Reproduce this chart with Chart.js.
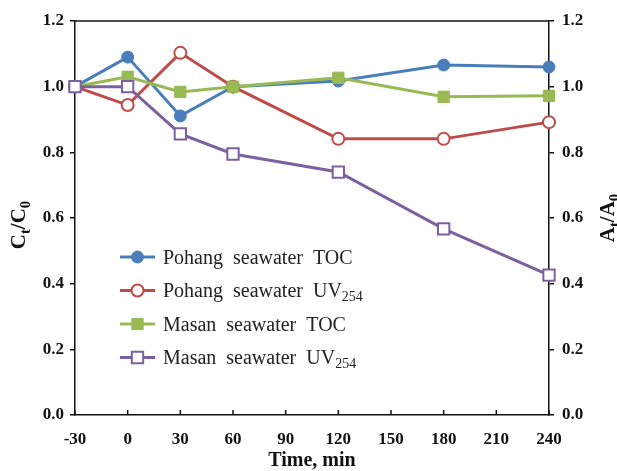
<!DOCTYPE html>
<html>
<head>
<meta charset="UTF-8">
<title>Ct/C0 vs time</title>
<script src="https://cdn.jsdelivr.net/npm/chart.js"></script>
<style>
  html, body { margin: 0; padding: 0; background: #fff; }
  #wrap { width: 617px; height: 471px; }
</style>
</head>
<body>
<div id="wrap"><canvas id="chart" width="617" height="471"></canvas></div>
<script>
// sampling times (min) and normalised values
const times = [-30, 0, 30, 60, 120, 180, 240];
const pohangToc = [1.0, 1.09, 0.911, 1.0, 1.017, 1.066, 1.06];
const pohangUv = [1.0, 0.944, 1.103, 1.0, 0.841, 0.841, 0.892];
const masanToc = [1.0, 1.03, 0.984, 1.0, 1.027, 0.969, 0.972];
const masanUv = [1.0, 1.0, 0.856, 0.795, 0.74, 0.567, 0.426];
const xTicks = [-30, 0, 30, 60, 90, 120, 150, 180, 210, 240];
const yTicks = [0, 0.2, 0.4, 0.6, 0.8, 1.0, 1.2];

const serif = "'Liberation Serif', 'Times New Roman', serif";
const ink = '#111';

function pts(vals) {
  return times.map((t, i) => ({ x: t, y: vals[i] }));
}

function series(label, sub, vals, color, style, filled, radius, order) {
  return {
    label: label,
    labelSub: sub,
    data: pts(vals),
    borderColor: color,
    backgroundColor: filled ? color : '#fff',
    pointBackgroundColor: filled ? color : '#fff',
    pointBorderColor: color,
    pointBorderWidth: filled ? 1 : 2,
    pointStyle: style,
    pointRadius: radius,
    borderWidth: 3,
    tension: 0,
    clip: false,
    order: order
  };
}

// text with an optional subscript tail
function richText(ctx, parts, x, y, size, weight, align) {
  let total = 0;
  parts.forEach(p => {
    ctx.font = weight + ' ' + (p.sub ? size * 0.7 : size) + 'px ' + serif;
    p.w = ctx.measureText(p.t).width;
    total += p.w;
  });
  let cx = align === 'center' ? x - total / 2 : x;
  ctx.textAlign = 'left';
  ctx.textBaseline = 'alphabetic';
  parts.forEach(p => {
    ctx.font = weight + ' ' + (p.sub ? size * 0.7 : size) + 'px ' + serif;
    ctx.fillText(p.t, cx, p.sub ? y + size * 0.22 : y);
    cx += p.w;
  });
}

function marker(ctx, ds, x, y) {
  ctx.save();
  ctx.fillStyle = ds.pointBackgroundColor;
  ctx.strokeStyle = ds.pointBorderColor;
  ctx.lineWidth = ds.pointBorderWidth;
  ctx.beginPath();
  if (ds.pointStyle === 'circle') {
    ctx.arc(x, y, ds.pointRadius, 0, Math.PI * 2);
  } else {
    const h = ds.pointRadius * Math.SQRT1_2;
    ctx.rect(x - h, y - h, h * 2, h * 2);
  }
  ctx.fill();
  ctx.stroke();
  ctx.restore();
}

const decorations = {
  id: 'decorations',
  beforeDatasetsDraw(chart) {
    const ctx = chart.ctx;
    const a = chart.chartArea;
    const xs = chart.scales.x;
    ctx.save();
    ctx.strokeStyle = ink;
    ctx.lineWidth = 1.5;
    // top edge of the frame
    ctx.beginPath();
    ctx.moveTo(a.left, a.top);
    ctx.lineTo(a.right, a.top);
    ctx.stroke();
    // inward ticks on the time axis
    xTicks.forEach(v => {
      const px = xs.getPixelForValue(v);
      ctx.beginPath();
      ctx.moveTo(px, a.bottom);
      ctx.lineTo(px, a.bottom - 5);
      ctx.stroke();
    });
    ctx.restore();
  },
  afterDraw(chart) {
    const ctx = chart.ctx;
    const a = chart.chartArea;
    ctx.save();
    ctx.fillStyle = ink;
    // axis titles
    richText(ctx, [{ t: 'Time, min' }], (a.left + a.right) / 2, 466, 20, 'bold', 'center');
    ctx.save();
    ctx.translate(25, 225);
    ctx.rotate(-Math.PI / 2);
    richText(ctx, [{ t: 'C' }, { t: 't', sub: true }, { t: '/C' }, { t: '0', sub: true }], 0, 0, 21, 'bold', 'center');
    ctx.restore();
    ctx.save();
    ctx.translate(614, 218);
    ctx.rotate(-Math.PI / 2);
    richText(ctx, [{ t: 'A' }, { t: 't', sub: true }, { t: '/A' }, { t: '0', sub: true }], 0, 0, 21, 'bold', 'center');
    ctx.restore();

    // legend inside the plot
    chart.data.datasets.forEach((ds, i) => {
      const y = 257 + i * 33.5;
      ctx.strokeStyle = ds.borderColor;
      ctx.lineWidth = 3;
      ctx.beginPath();
      ctx.moveTo(120, y);
      ctx.lineTo(155, y);
      ctx.stroke();
      marker(ctx, ds, 137.5, y);
      ctx.fillStyle = '#222';
      const parts = [{ t: ds.label }];
      if (ds.labelSub) parts.push({ t: ds.labelSub, sub: true });
      richText(ctx, parts, 163, y + 6.5, 20, 'normal', 'left');
    });
    ctx.restore();
  }
};

new Chart(document.getElementById('chart'), {
  type: 'line',
  data: {
    datasets: [
      series('Pohang  seawater  TOC', '', pohangToc, '#4a7ebb', 'circle', true, 6, 4),
      series('Pohang  seawater  UV', '254', pohangUv, '#be4b48', 'circle', false, 6, 3),
      series('Masan  seawater  TOC', '', masanToc, '#98b954', 'rect', true, 8, 2),
      series('Masan  seawater  UV', '254', masanUv, '#7d60a0', 'rect', false, 8, 1)
    ]
  },
  options: {
    responsive: false,
    animation: false,
    layout: { padding: { top: 21, left: 0, right: 0, bottom: 0 } },
    plugins: { legend: { display: false }, tooltip: { enabled: false } },
    scales: {
      x: {
        type: 'linear',
        min: -30,
        max: 240,
        afterBuildTicks: s => { s.ticks = xTicks.map(v => ({ value: v })); },
        afterFit: s => { s.height = 56; },
        grid: { display: false },
        border: { display: true, color: ink, width: 1.5 },
        ticks: { color: ink, padding: 6, font: { family: serif, size: 17, weight: 'bold' } }
      },
      y: {
        position: 'left',
        min: 0,
        max: 1.2,
        afterBuildTicks: s => { s.ticks = yTicks.map(v => ({ value: v })); },
        afterFit: s => { s.width = 75; },
        grid: { display: true, drawOnChartArea: false, drawTicks: true, tickLength: 5, color: ink, lineWidth: 1.5 },
        border: { display: true, color: ink, width: 1.5 },
        ticks: { color: ink, padding: 6, font: { family: serif, size: 17, weight: 'bold' }, callback: v => v.toFixed(1) }
      },
      y2: {
        position: 'right',
        min: 0,
        max: 1.2,
        afterBuildTicks: s => { s.ticks = yTicks.map(v => ({ value: v })); },
        afterFit: s => { s.width = 68; },
        grid: { display: true, drawOnChartArea: false, drawTicks: true, tickLength: 5, color: ink, lineWidth: 1.5 },
        border: { display: true, color: ink, width: 1.5 },
        ticks: { color: ink, padding: 8, font: { family: serif, size: 17, weight: 'bold' }, callback: v => v.toFixed(1) }
      }
    }
  },
  plugins: [decorations]
});
</script>
</body>
</html>
